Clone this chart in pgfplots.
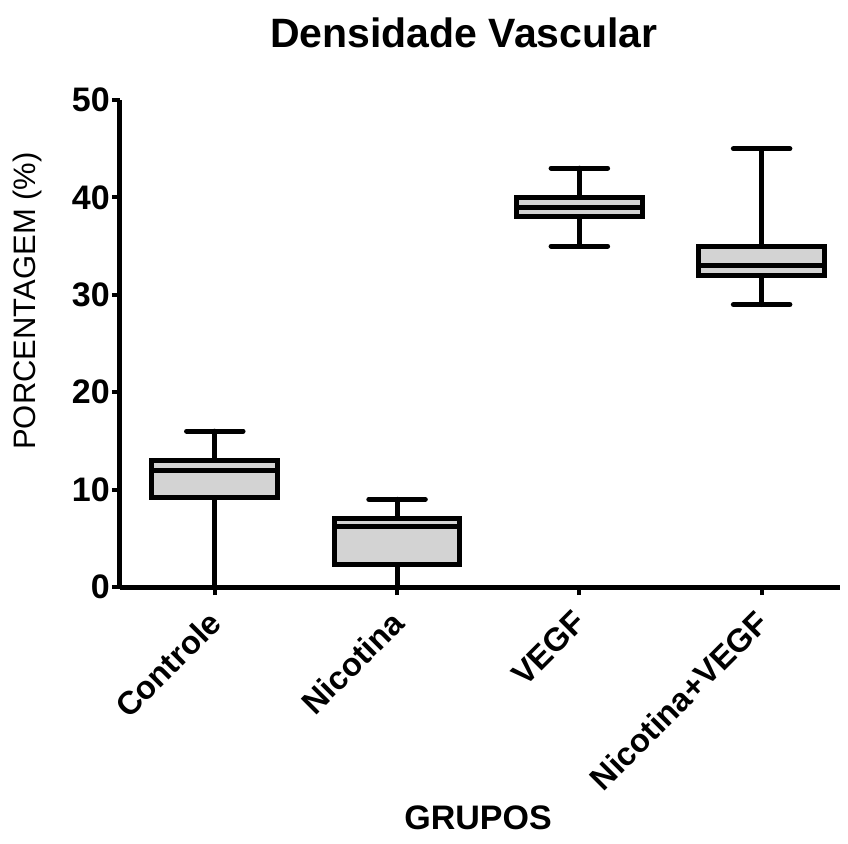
\documentclass[border=0pt]{standalone}
\usepackage{fontspec}
\setmainfont{Liberation Sans}
\usepackage{pgfplots}
\pgfplotsset{compat=1.18}
\usepgfplotslibrary{statistics}

\definecolor{boxgray}{RGB}{211,211,211}

\begin{document}
\begin{tikzpicture}
\useasboundingbox (-120pt,-256pt) rectangle (728pt,587pt);
\begin{axis}[
    at={(0,0)}, anchor=south west,
    width=720pt, height=487pt, scale only axis,
    axis lines*=left,
    axis line style={line width=5pt, black, -},
    xmin=-0.52, xmax=3.43,
    ymin=0, ymax=50,
    ytick={0,10,20,30,40,50},
    xtick={0,1,2,3},
    xticklabels={Controle,Nicotina,VEGF,Nicotina+VEGF},
    tick align=outside,
    major tick length=8pt,
    tick style={line width=4pt, black},
    /pgf/number format/assume math mode=true,
    yticklabel style={font=\fontsize{34}{40}\selectfont\bfseries, inner sep=2pt},
    xticklabel style={font=\fontsize{32.5}{38}\selectfont\bfseries, rotate=45, anchor=north east, inner sep=3pt, xshift=-12pt, yshift=-1pt},
    clip=false,
    boxplot/draw direction=y,
    boxplot/box extend=0.69,
    boxplot/whisker extend=0.31,
    boxplot/every box/.style={draw=black, fill=boxgray, line width=5pt},
    boxplot/every whisker/.style={draw=black, line width=5pt, line cap=round},
    boxplot/every median/.style={draw=black, line width=5pt},
]
\addplot[boxplot prepared={lower whisker=0, lower quartile=9.2, median=12, upper quartile=13, upper whisker=16, draw position=0}] coordinates {};
\addplot[boxplot prepared={lower whisker=0, lower quartile=2.3, median=6.2, upper quartile=7, upper whisker=9, draw position=1}] coordinates {};
\addplot[boxplot prepared={lower whisker=35, lower quartile=38, median=39, upper quartile=40, upper whisker=43, draw position=2}] coordinates {};
\addplot[boxplot prepared={lower whisker=29, lower quartile=32, median=33, upper quartile=35, upper whisker=45, draw position=3}] coordinates {};
\end{axis}
\node[font=\fontsize{41}{48}\selectfont\bfseries] at (344pt,554pt) {Densidade Vascular};
\node[font=\fontsize{31}{36}\selectfont, rotate=90] at (-93pt,286pt) {PORCENTAGEM (\%)};
\node[font=\fontsize{34}{40}\selectfont\bfseries] at (358pt,-231pt) {GRUPOS};
\end{tikzpicture}
\end{document}
